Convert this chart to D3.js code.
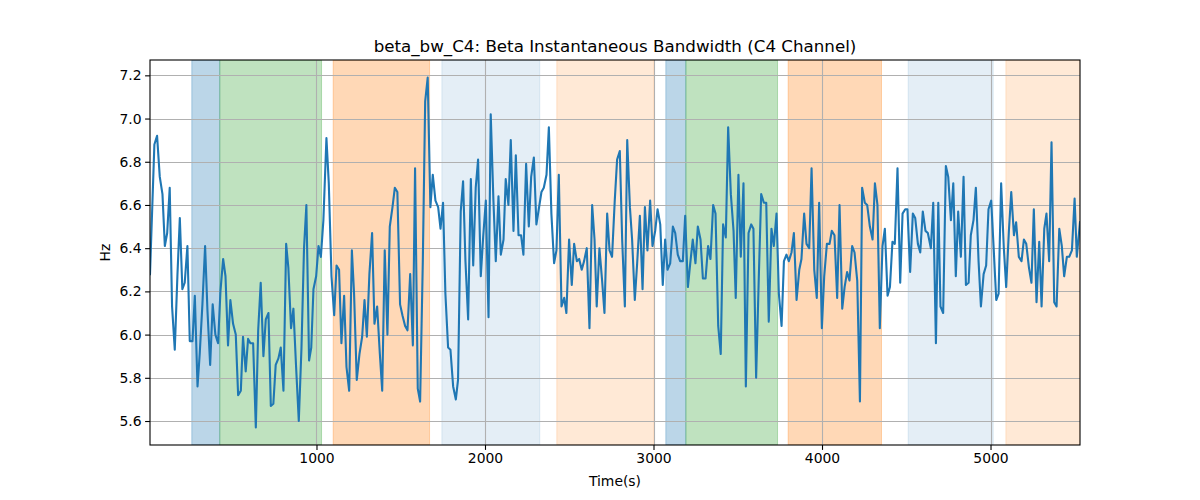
<!DOCTYPE html>
<html><head><meta charset="utf-8">
<script src="https://cdn.jsdelivr.net/npm/d3@7"></script>
<style>body{margin:0;background:#fff}svg{display:block}text{font-family:"DejaVu Sans",sans-serif;fill:#000}</style>
</head><body><svg id="c" width="1200" height="500"></svg>
<script>
const times = [12,38,54,70,86,100,114,129,143,159,175,189,204,218,234,248,264,278,294,307,323,339,353,369,384,400,416,430,446,460,475,489,505,521,535,551,564,580,594,608,624,640,654,669,685,699,715,729,744,758,774,788,804,820,833,849,863,879,895,911,926,940,956,
969,982,998,1012,1026,1041,1059,1073,1089,1105,1119,1134,1148,1164,1178,1194,1210,1223,1239,1255,1271,1285,1299,1314,1330,1344,1360,1376,1390,1405,1421,1435,1451,1465,1480,1496,1510,1526,1540,1556,1572,1585,1601,1615,1631,1645,1660,1676,1690,1706,1722,1736,1751,1765,1781,1795,1811,1827,1840,1856,1870,
1884,1900,1916,1930,1945,1959,1975,1989,2005,2021,2034,2050,2064,2080,2094,2110,2123,2139,2153,2169,2183,2199,2214,2228,2244,2260,2274,2290,2305,2319,2335,2349,2365,2379,2394,2410,2424,2438,2454,2470,2483,2499,2515,2529,2545,2559,2574,2588,2604,2620,2636,2650,2663,2679,2695,2709,2725,2739,2754,2770,2784,2800,
2814,2830,2844,2860,2873,2889,2903,2919,2935,2949,2964,2980,2994,3010,3024,3040,3055,3069,3083,3099,3115,3129,3144,3158,3174,3188,3204,3218,3233,3249,3263,3279,3293,3309,3324,3338,3354,3368,3384,3399,3413,3429,3443,3459,3475,3488,3504,3518,3534,3548,3564,3580,3593,3609,3625,3639,3655,3669,3684,3700,3714,
3730,3744,3760,3774,3789,3803,3819,3833,3849,3865,3878,3894,3908,3924,3938,3954,3969,3983,3999,4013,4029,4045,4058,4074,4090,4104,4120,4134,4149,4163,4179,4193,4209,4225,4238,4254,4268,4284,4300,4314,4329,4343,4359,4373,4389,4403,4418,4432,4448,4464,4478,4494,4507,4523,4539,4553,4569,4583,4598,4614,4628,
4646,4660,4676,4690,4703,4719,4735,4749,4765,4779,4794,4808,4824,4840,4854,4870,4883,4899,4913,4929,4943,4959,4974,4988,5004,5018,5034,5048,5063,5079,5093,5109,5123,5139,5152,5168,5184,5198,5212,5228,5243,5257,5273,5289,5303,5319,5332,5348,5362,5378,5392,5408,5423,5437,5453,5467,5483,5499,5512,5531];

const values = [6.28,6.88,6.92,6.73,6.65,6.41,6.47,6.68,6.13,5.93,6.28,6.54,6.21,6.24,6.41,5.97,5.97,6.18,5.76,5.91,6.14,6.41,6.11,5.86,6.14,6.00,5.96,6.20,6.35,6.27,5.95,6.16,6.05,6.00,5.72,5.74,5.99,5.83,5.98,5.96,5.96,5.57,6.02,6.24,5.90,6.07,6.10,5.67,5.68,5.86,5.89,5.94,5.74,6.42,6.31,6.03,6.12,5.85,5.60,5.94,6.40,6.60,5.88,
5.94,6.21,6.27,6.41,6.36,6.53,6.91,6.70,6.27,6.09,6.32,6.30,5.96,6.18,5.85,5.74,6.39,6.19,5.79,5.91,5.99,6.16,5.99,6.28,6.47,6.05,6.13,5.91,5.74,6.39,6.00,6.50,6.59,6.68,6.66,6.14,6.09,6.04,6.02,6.28,5.95,6.77,5.75,5.69,6.34,7.08,7.19,6.59,6.74,6.62,6.59,6.49,6.61,6.19,5.94,5.93,5.76,5.70,5.79,6.57,6.71,
6.34,6.07,6.72,6.32,6.68,6.81,6.27,6.45,6.62,6.08,7.02,6.62,6.34,6.64,6.37,6.44,6.72,6.60,6.90,6.48,6.83,6.46,6.46,6.37,6.79,6.50,6.73,6.82,6.51,6.58,6.66,6.68,6.74,6.96,6.56,6.33,6.39,6.74,6.13,6.17,6.10,6.44,6.23,6.42,6.34,6.35,6.30,6.34,6.40,6.03,6.60,6.44,6.13,6.40,6.25,6.10,6.56,6.39,6.36,6.62,6.81,6.85,
6.44,6.13,6.90,6.59,6.44,6.16,6.33,6.55,6.21,6.59,6.39,6.62,6.41,6.48,6.58,6.51,6.23,6.44,6.30,6.33,6.50,6.47,6.37,6.34,6.34,6.55,6.22,6.33,6.44,6.33,6.50,6.44,6.26,6.26,6.41,6.35,6.60,6.56,6.04,5.91,6.51,6.45,6.96,6.65,6.48,6.17,6.74,6.36,6.70,5.76,6.47,6.51,6.49,5.80,6.27,6.65,6.61,6.61,6.06,6.49,6.41,
6.56,6.19,6.04,6.34,6.37,6.34,6.38,6.47,6.16,6.30,6.35,6.56,6.42,6.40,6.77,6.30,6.17,6.61,6.03,6.27,6.42,6.42,6.48,6.46,6.17,6.60,6.12,6.22,6.29,6.25,6.41,6.38,6.25,5.69,6.68,6.61,6.60,6.50,6.44,6.70,6.60,6.03,6.41,6.49,6.18,6.22,6.43,6.42,6.77,6.24,6.56,6.58,6.58,6.29,6.56,6.54,6.42,6.38,6.57,6.48,6.47,
6.40,6.61,5.96,6.61,6.13,6.10,6.78,6.73,6.53,6.70,6.27,6.57,6.36,6.73,6.23,6.24,6.46,6.53,6.68,6.34,6.13,6.28,6.32,6.58,6.62,6.41,6.16,6.19,6.70,6.40,6.22,6.48,6.66,6.46,6.52,6.36,6.34,6.44,6.42,6.31,6.24,6.58,6.15,6.43,6.13,6.49,6.56,6.34,6.89,6.15,6.13,6.49,6.41,6.27,6.36,6.36,6.39,6.63,6.36,6.52];

const spanStart = [260, 426, 1099, 1744, 2426, 3073, 3192, 3799, 4511, 5091];
const spanEnd   = [426, 1030, 1671, 2325, 3002, 3192, 3736, 4353, 5016, 5531];
const spanKind  = ["blue","green","orange","lightblue","lightorange","blue","green","orange","lightblue","lightorange"];

const xTicks = [1000, 2000, 3000, 4000, 5000];
const yTicks = [5.6, 5.8, 6.0, 6.2, 6.4, 6.6, 6.8, 7.0, 7.2];

const titleText = "beta_bw_C4: Beta Instantaneous Bandwidth (C4 Channel)";
const xLabel = "Time(s)";
const yLabel = "Hz";

const kindStyle = {
  blue: {c:"#1f77b4", a:0.3},
  green: {c:"#2ca02c", a:0.3},
  orange: {c:"#ff7f0e", a:0.3},
  lightblue: {c:"#1f77b4", a:0.12},
  lightorange: {c:"#ff7f0e", a:0.17}
};

const L=150, R=1080, T=60, B=445;
const svg = d3.select("#c");
const x = d3.scaleLinear().domain(d3.extent(times)).range([L, R]);
const [lo, hi] = d3.extent(values);
const pad = (hi - lo) * 0.05;
const y = d3.scaleLinear().domain([lo - pad, hi + pad]).range([B, T]);

svg.append("defs").append("clipPath").attr("id","clip")
  .append("rect").attr("x",L).attr("y",T).attr("width",R-L).attr("height",B-T);

const spans = spanStart.map((s,i)=>({s, e:spanEnd[i], k:spanKind[i]}));
svg.append("g").attr("clip-path","url(#clip)").selectAll("rect").data(spans).join("rect")
  .attr("x", d=>x(d.s)).attr("width", d=>x(d.e)-x(d.s))
  .attr("y", T).attr("height", B-T)
  .attr("fill", d=>kindStyle[d.k].c).attr("fill-opacity", d=>kindStyle[d.k].a)
  .attr("stroke", d=>kindStyle[d.k].c).attr("stroke-opacity", d=>kindStyle[d.k].a).attr("stroke-width",1);

// grid
const grid = svg.append("g");
grid.selectAll(".gx").data(xTicks).join("line")
  .attr("x1",d=>Math.round(x(d))+0.5).attr("x2",d=>Math.round(x(d))+0.5).attr("y1",T).attr("y2",B)
  .attr("stroke","#b0b0b0").attr("stroke-width",1.1);
grid.selectAll(".gy").data(yTicks).join("line")
  .attr("y1",d=>Math.round(y(d))+0.5).attr("y2",d=>Math.round(y(d))+0.5).attr("x1",L).attr("x2",R)
  .attr("stroke","#b0b0b0").attr("stroke-width",1.1);

// line
svg.append("path").datum(times.map((t,i)=>[t, values[i]]))
  .attr("clip-path","url(#clip)")
  .attr("d", d3.line().x(d=>x(d[0])).y(d=>y(d[1])))
  .attr("fill","none").attr("stroke","#1f77b4").attr("stroke-width",2.1)
  .attr("stroke-linejoin","round").attr("stroke-linecap","square");

// axes
const xa = svg.append("g").attr("transform",`translate(0,${B})`)
  .call(d3.axisBottom(x).tickValues(xTicks).tickFormat(d3.format("d")).tickSize(4.9).tickPadding(3.5));
const ya = svg.append("g").attr("transform",`translate(${L},0)`)
  .call(d3.axisLeft(y).tickValues(yTicks).tickFormat(d3.format(".1f")).tickSize(4.9).tickPadding(3.5));
[xa, ya].forEach(g=>{
  g.select(".domain").remove();
  g.selectAll("text").style("font-size","13.9px").style("font-family","DejaVu Sans, sans-serif");
  g.selectAll("line").attr("stroke","#000").attr("stroke-width",1.1);
});

svg.append("rect").attr("x",L).attr("y",T).attr("width",R-L).attr("height",B-T)
  .attr("fill","none").attr("stroke","#000").attr("stroke-width",1.1);

svg.append("text").attr("x",(L+R)/2).attr("y",52).attr("text-anchor","middle")
  .style("font-size","16.7px").text(titleText);
svg.append("text").attr("x",(L+R)/2).attr("y",486).attr("text-anchor","middle")
  .style("font-size","13.9px").text(xLabel);
svg.append("text").attr("transform",`translate(110,${(T+B)/2}) rotate(-90)`).attr("text-anchor","middle")
  .style("font-size","13.9px").text(yLabel);
</script></body></html>
